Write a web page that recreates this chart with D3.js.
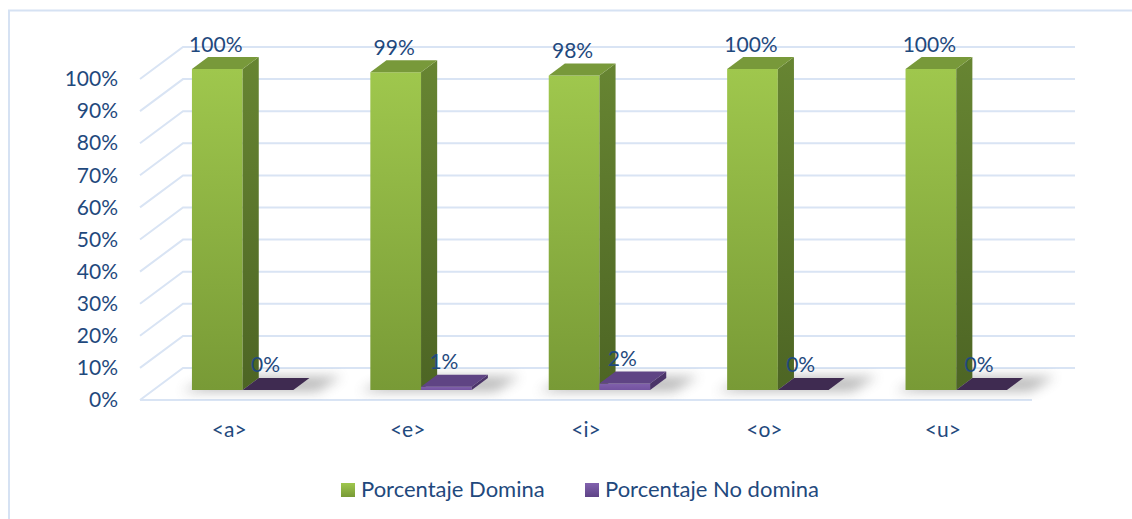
<!DOCTYPE html>
<html>
<head>
<meta charset="utf-8">
<script src="https://cdn.jsdelivr.net/npm/d3@7"></script>
<style>
  html, body { margin: 0; padding: 0; background: #ffffff; }
  svg { display: block; }
  text { font-family: Lato, "Open Sans", sans-serif; }
</style>
</head>
<body>
<div id="chart"></div>
<script>
// ---- data ----
const categories = ["<a>", "<e>", "<i>", "<o>", "<u>"];
const seriesNames = ["Porcentaje Domina", "Porcentaje No domina"];
const domina = [1.00, 0.99, 0.98, 1.00, 1.00];
const noDomina = [0.00, 0.01, 0.02, 0.00, 0.00];
const dominaLabels = ["100%", "99%", "98%", "100%", "100%"];
const noDominaLabels = ["0%", "1%", "2%", "0%", "0%"];
const tickValues = [0, 0.1, 0.2, 0.3, 0.4, 0.5, 0.6, 0.7, 0.8, 0.9, 1.0];

// ---- layout ----
const W = 1132, H = 519;
const DX = 43, DY = 32;          // full depth offset of the 3D floor
const Z0 = 10 / 32, Z1 = 22 / 32; // bar depth span
const textColor = "#1f497d";
const gridColor = "#d9e4f4";
const FS = "21px";

const svg = d3.select("#chart").append("svg")
  .attr("width", W).attr("height", H);

const defs = svg.append("defs");
function vGrad(id, c1, c2) {
  const g = defs.append("linearGradient").attr("id", id)
    .attr("x1", 0).attr("y1", 0).attr("x2", 0).attr("y2", 1);
  g.append("stop").attr("offset", "0%").attr("stop-color", c1);
  g.append("stop").attr("offset", "100%").attr("stop-color", c2);
}
vGrad("gFront", "#9fc74d", "#789a36");
vGrad("gSide", "#678532", "#4d6524");
vGrad("pFront", "#8060ab", "#7352a0");
vGrad("legG", "#9fc74d", "#789a36");
vGrad("legP", "#8262ae", "#5e4386");
defs.append("filter").attr("id", "blur")
  .attr("x", "-50%").attr("y", "-50%").attr("width", "200%").attr("height", "200%")
  .append("feGaussianBlur").attr("stdDeviation", 6);

// border frame
svg.append("rect")
  .attr("x", 9).attr("y", 10.5).attr("width", 1200).attr("height", 600)
  .attr("fill", "none").attr("stroke", "#d6e2f3").attr("stroke-width", 2);

const x = d3.scaleBand().domain(categories).range([140, 1032]);
const y = d3.scaleLinear().domain([0, 1]).range([400, 79]);
const inner = d3.scaleBand().domain(seriesNames)
  .range([38.5, x.bandwidth() - 38.5]);

const P = (px, v, z) => [px + z * DX, y(v) - z * DY];

// ---- gridlines (back wall + left wall) ----
const grid = svg.append("g");
tickValues.forEach(t => {
  const a = P(140, t, 0), b = P(140, t, 1), c = P(1032, t, 1);
  grid.append("path")
    .attr("d", d3.line()([a, b, c]))
    .attr("fill", "none").attr("stroke", gridColor).attr("stroke-width", 2);
});
// floor front edge
grid.append("path")
  .attr("d", d3.line()([P(140, 0, 0), P(1032, 0, 0)]))
  .attr("fill", "none").attr("stroke", gridColor).attr("stroke-width", 2);

// ---- y axis labels ----
const yAxis = d3.axisLeft(y).tickValues(tickValues)
  .tickFormat(d3.format(".0%")).tickSize(0).tickPadding(22);
const ya = svg.append("g").attr("transform", "translate(140,0)").call(yAxis);
ya.select(".domain").remove();
ya.selectAll("text").attr("fill", textColor).style("font-size", FS)
  .style("font-family", "Lato, 'Open Sans', sans-serif");

// ---- shadows ----
const shadowG = svg.append("g").attr("opacity", 0.45);
categories.forEach((c, i) => {
  const x0 = x(c) + inner(seriesNames[0]) - 8;
  const x1 = x(c) + inner(seriesNames[1]) + inner.bandwidth() + 26;
  const pts = [P(x0, 0, Z0 - 0.05), P(x1, 0, Z0 - 0.05), P(x1 + 4, 0, Z1 + 0.05), P(x0 + 12, 0, Z1 + 0.05)];
  shadowG.append("path").attr("d", d3.line()(pts) + "Z")
    .attr("fill", "#6a6a6a").attr("filter", "url(#blur)");
});

// ---- bars ----
function drawBar(g, bx, bw, v, cols, isZero) {
  const fl = P(bx, 0, Z0), fr = P(bx + bw, 0, Z0);
  const tl = P(bx, v, Z0), tr = P(bx + bw, v, Z0);
  const btl = P(bx, v, Z1), btr = P(bx + bw, v, Z1);
  const bbr = P(bx + bw, 0, Z1);
  g.append("path").attr("d", d3.line()([fl, fr, tr, tl]) + "Z").attr("fill", cols.front);
  g.append("path").attr("d", d3.line()([fr, bbr, btr, tr]) + "Z").attr("fill", cols.side);
  g.append("path").attr("d", d3.line()([tl, tr, btr, btl]) + "Z")
    .attr("fill", isZero ? cols.topZero : cols.top);
}

const barsG = svg.append("g");
const labelsG = svg.append("g");
categories.forEach((c, i) => {
  const g = barsG.append("g");
  const bw = inner.bandwidth();
  // green
  const gx = x(c) + inner(seriesNames[0]);
  drawBar(g, gx, bw, domina[i],
    { front: "url(#gFront)", side: "url(#gSide)", top: "#78993a", topZero: "#78993a" }, false);
  const gTop = P(gx + bw / 2, domina[i], Z1);
  labelsG.append("text")
    .attr("x", P(gx + bw / 2, domina[i], Z0)[0] - 1.5)
    .attr("y", gTop[1] - 5)
    .attr("text-anchor", "middle").attr("fill", textColor)
    .style("font-size", FS).text(dominaLabels[i]);
  // purple
  const px = x(c) + inner(seriesNames[1]);
  drawBar(g, px, bw, noDomina[i],
    { front: "url(#pFront)", side: "#4b3469", top: "#5f4484", topZero: "#3f2b51" },
    noDomina[i] === 0);
  const pTop = P(px + bw / 2, noDomina[i], Z1);
  labelsG.append("text")
    .attr("x", P(px + bw / 2, noDomina[i], Z0)[0] - 2.5)
    .attr("y", pTop[1] - 6)
    .attr("text-anchor", "middle").attr("fill", textColor)
    .style("font-size", FS).text(noDominaLabels[i]);
});

// ---- category labels ----
const xAxis = d3.axisBottom(x).tickSize(0).tickPadding(22);
const xa = svg.append("g").attr("transform", "translate(0,400)").call(xAxis);
xa.select(".domain").remove();
xa.selectAll("text").attr("fill", textColor).style("font-size", FS)
  .style("font-family", "Lato, 'Open Sans', sans-serif");

// ---- legend ----
const legend = svg.append("g");
const legX = [341, 585];
seriesNames.forEach((s, i) => {
  legend.append("rect").attr("x", legX[i]).attr("y", 483).attr("width", 14).attr("height", 14)
    .attr("fill", i === 0 ? "url(#legG)" : "url(#legP)");
  legend.append("text").attr("x", legX[i] + 20).attr("y", 497)
    .attr("fill", textColor).style("font-size", "22px").text(s);
});
</script>
</body>
</html>
